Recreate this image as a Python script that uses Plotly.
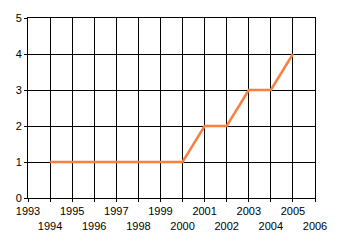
import plotly.graph_objects as go

years = [1994, 1995, 1996, 1997, 1998, 1999, 2000, 2001, 2002, 2003, 2004, 2005]
values = [1, 1, 1, 1, 1, 1, 1, 2, 2, 3, 3, 4]
tick_years = list(range(1993, 2007))
tick_labels = [str(y) if y % 2 == 1 else "<br>" + str(y) for y in tick_years]
y_ticks = [0, 1, 2, 3, 4, 5]

fig = go.Figure()
fig.add_trace(go.Scatter(x=years, y=values, mode="lines",
                         line=dict(color="#FA8040", width=2.5)))

font = dict(family="Liberation Sans, Arial, sans-serif", size=11, color="#000000")
fig.update_layout(
    width=340, height=245,
    margin=dict(l=28, r=25, t=15, b=47),
    paper_bgcolor="white", plot_bgcolor="white",
    showlegend=False,
    font=font,
    xaxis=dict(range=[1993, 2006], tickmode="array", tickvals=tick_years,
               ticktext=tick_labels, showgrid=True, gridcolor="black", gridwidth=1,
               showline=True, linecolor="black", linewidth=1, mirror=True,
               ticks="outside", ticklen=3, tickcolor="black", zeroline=False,
               tickangle=0, tickfont=font),
    yaxis=dict(range=[0, 5], tickmode="array", tickvals=y_ticks,
               showgrid=True, gridcolor="black", gridwidth=1,
               showline=True, linecolor="black", linewidth=1, mirror=True,
               ticks="outside", ticklen=3, tickcolor="black", zeroline=False,
               tickfont=font),
)
fig.write_html("out.html")
